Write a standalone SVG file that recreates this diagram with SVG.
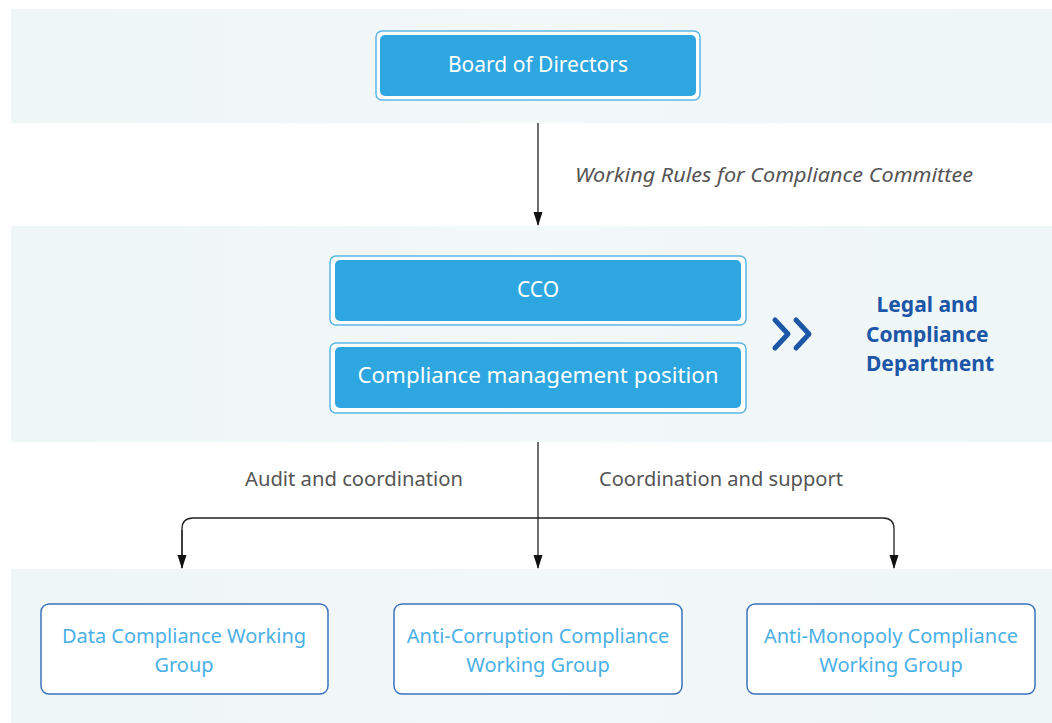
<svg xmlns="http://www.w3.org/2000/svg" width="1052" height="723" viewBox="0 0 1052 723">
<defs>
<linearGradient id="band" x1="0" y1="0" x2="1" y2="0">
<stop offset="0" stop-color="#eef6f6"/>
<stop offset="0.5" stop-color="#f3f8f9"/>
<stop offset="1" stop-color="#eef6f7"/>
</linearGradient>
<marker id="arr" viewBox="0 0 14 10" refX="13" refY="5" markerWidth="14" markerHeight="10" markerUnits="userSpaceOnUse" orient="auto">
<path d="M0,0.5 L14,5 L0,9.5 Z" fill="#111"/>
</marker>
<style>
.outer{fill:#fff;stroke:#5bb6e8;stroke-width:1.5}
.inner{fill:#2ea6e0}
.wt{font-family:"Noto Sans","Liberation Sans",sans-serif;font-size:21px;fill:#fff;text-anchor:middle;dominant-baseline:central}
.grp{fill:#fff;stroke:#3a74bb;stroke-width:1.5}
.gt{font-family:"Noto Sans","Liberation Sans",sans-serif;font-size:20px;fill:#4ab0e6;text-anchor:middle;dominant-baseline:central}
.lbl{font-family:"Noto Sans","Liberation Sans",sans-serif;font-size:20px;fill:#555;dominant-baseline:central}
.conn{fill:none;stroke:#222;stroke-width:1.3}
</style>
</defs>
<rect x="0" y="0" width="1052" height="723" fill="#fff"/>
<rect x="11" y="9" width="1041" height="114" fill="url(#band)"/>
<rect x="11" y="226" width="1041" height="216" fill="url(#band)"/>
<rect x="11" y="569" width="1041" height="154" fill="url(#band)"/>

<g id="connectors">
<line class="conn" x1="538" y1="123" x2="538" y2="225" marker-end="url(#arr)"/>
<line class="conn" x1="538" y1="442" x2="538" y2="568" marker-end="url(#arr)"/>
<path class="conn" d="M182,568 L182,529 Q182,518 193,518 L883,518 Q894,518 894,529 L894,568" marker-end="url(#arr)"/>
<path class="conn" d="M182,530 L182,568" marker-end="url(#arr)"/>
<text class="lbl" x="575" y="174" font-style="italic" textLength="398" lengthAdjust="spacingAndGlyphs">Working Rules for Compliance Committee</text>
<text class="lbl" x="245" y="478" textLength="218" lengthAdjust="spacingAndGlyphs">Audit and coordination</text>
<text class="lbl" x="599" y="478" textLength="244" lengthAdjust="spacingAndGlyphs">Coordination and support</text>
</g>

<g id="board">
<rect class="outer" x="376" y="31" width="324" height="69" rx="6"/>
<rect class="inner" x="380" y="35" width="316" height="61" rx="5"/>
<text class="wt" x="538" y="64">Board of Directors</text>
</g>
<g id="cco">
<rect class="outer" x="330" y="256" width="416" height="69" rx="6"/>
<rect class="inner" x="335" y="260" width="406" height="61" rx="5"/>
<text class="wt" x="538" y="289">CCO</text>
</g>
<g id="cmp">
<rect class="outer" x="330" y="343" width="416" height="70" rx="6"/>
<rect class="inner" x="335" y="347" width="406" height="61" rx="5"/>
<text class="wt" x="538" y="375" textLength="361" lengthAdjust="spacingAndGlyphs">Compliance management position</text>
</g>
<g id="legal">
<path d="M775,320 L788,334 L775,348 M796,320 L809,334 L796,348" fill="none" stroke="#1c56a6" stroke-width="5" stroke-linecap="round" stroke-linejoin="round"/>
<text font-family="'Noto Sans','Liberation Sans',sans-serif" font-size="21" font-weight="bold" fill="#1c56a6" text-anchor="middle" dominant-baseline="central">
<tspan x="930" y="304">Legal and</tspan>
<tspan x="930" y="334">Compliance</tspan>
<tspan x="930" y="363">Department</tspan>
</text>
</g>
<g id="data">
<rect class="grp" x="41" y="604" width="287" height="90" rx="8"/>
<text class="gt"><tspan x="184" y="635">Data Compliance Working</tspan><tspan x="184" y="664">Group</tspan></text>
</g>
<g id="anticorruption">
<rect class="grp" x="394" y="604" width="288" height="90" rx="8"/>
<text class="gt"><tspan x="538" y="635">Anti-Corruption Compliance</tspan><tspan x="538" y="664">Working Group</tspan></text>
</g>
<g id="antimonopoly">
<rect class="grp" x="747" y="604" width="288" height="90" rx="8"/>
<text class="gt"><tspan x="891" y="635">Anti-Monopoly Compliance</tspan><tspan x="891" y="664">Working Group</tspan></text>
</g>
</svg>
